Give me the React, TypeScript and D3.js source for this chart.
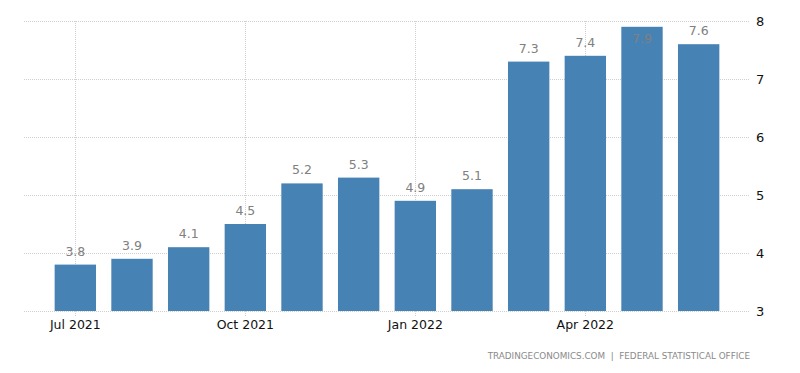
import { useEffect, useRef } from 'react'
import * as d3 from 'd3'

// Monthly data, Jul 2021 .. Jun 2022
const months = ['2021-07', '2021-08', '2021-09', '2021-10', '2021-11', '2021-12',
    '2022-01', '2022-02', '2022-03', '2022-04', '2022-05', '2022-06']
const values = [3.8, 3.9, 4.1, 4.5, 5.2, 5.3, 4.9, 5.1, 7.3, 7.4, 7.9, 7.6]
const yTicks = [3, 4, 5, 6, 7, 8]
const xTickMonths = ['2021-07', '2021-10', '2022-01', '2022-04']
const xTickLabels = ['Jul 2021', 'Oct 2021', 'Jan 2022', 'Apr 2022']
const source = 'TRADINGECONOMICS.COM  |  FEDERAL STATISTICAL OFFICE'

const W = 800
const H = 373

const App = () => {
    const ref = useRef<SVGSVGElement>(null)

    useEffect(() => {
        const svg = d3.select(ref.current)
        svg.selectAll('*').remove()

        const margin = { top: 21, right: 50, bottom: 62, left: 24 }
        const x = d3.scaleBand()
            .domain(months)
            .range([47, 727])
            .paddingInner(0.27)
            .paddingOuter(0.135)
        const y = d3.scaleLinear()
            .domain([3, 8])
            .range([H - margin.bottom, margin.top])

        const font = 'Tahoma, "DejaVu Sans", Verdana, sans-serif'

        // horizontal grid
        svg.append('g')
            .selectAll('line')
            .data(yTicks)
            .enter()
            .append('line')
            .attr('x1', margin.left)
            .attr('x2', W - margin.right)
            .attr('y1', d => y(d) + 0.5)
            .attr('y2', d => y(d) + 0.5)
            .attr('stroke', '#cfcfcf')
            .attr('stroke-dasharray', '1,1')

        // vertical grid at labelled months
        svg.append('g')
            .selectAll('line')
            .data(xTickMonths)
            .enter()
            .append('line')
            .attr('x1', d => Math.round(x(d)! + x.bandwidth() / 2) + 0.5)
            .attr('x2', d => Math.round(x(d)! + x.bandwidth() / 2) + 0.5)
            .attr('y1', margin.top)
            .attr('y2', y(3) + 5)
            .attr('stroke', '#cfcfcf')
            .attr('stroke-dasharray', '1,1')

        // bars
        svg.append('g')
            .selectAll('rect')
            .data(values)
            .enter()
            .append('rect')
            .attr('x', (d, i) => x(months[i])!)
            .attr('width', x.bandwidth())
            .attr('y', d => y(d))
            .attr('height', d => y(3) - y(d))
            .attr('fill', '#4682b4')

        // value labels
        svg.append('g')
            .selectAll('text')
            .data(values)
            .enter()
            .append('text')
            .attr('x', (d, i) => x(months[i])! + x.bandwidth() / 2)
            .attr('y', d => {
                const top = y(d)
                return top - 9 < 30 ? top + 16 : top - 9
            })
            .attr('text-anchor', 'middle')
            .attr('font-family', font)
            .attr('font-size', 12.5)
            .attr('fill', '#808080')
            .text(d => d.toFixed(1))

        // y-axis labels (right)
        svg.append('g')
            .selectAll('text')
            .data(yTicks)
            .enter()
            .append('text')
            .attr('x', W - margin.right + 6)
            .attr('y', d => y(d) + 5)
            .attr('font-family', font)
            .attr('font-size', 13)
            .attr('fill', '#111')
            .text(d => d)

        // x-axis labels
        svg.append('g')
            .selectAll('text')
            .data(xTickMonths)
            .enter()
            .append('text')
            .attr('x', d => x(d)! + x.bandwidth() / 2)
            .attr('y', y(3) + 18)
            .attr('text-anchor', 'middle')
            .attr('font-family', font)
            .attr('font-size', 12.5)
            .attr('fill', '#111')
            .text((d, i) => xTickLabels[i])

        // source
        svg.append('text')
            .attr('x', W - margin.right)
            .attr('y', 359)
            .attr('text-anchor', 'end')
            .attr('font-family', font)
            .attr('font-size', 8.8)
            .attr('fill', '#8a8a8a')
            .style('white-space', 'pre')
            .text(source)
    }, [])

    return (
        <svg ref={ref} width={W} height={H}
            style={{ position: 'absolute', left: 0, top: 0, background: '#fff' }} />
    )
}

export default App
